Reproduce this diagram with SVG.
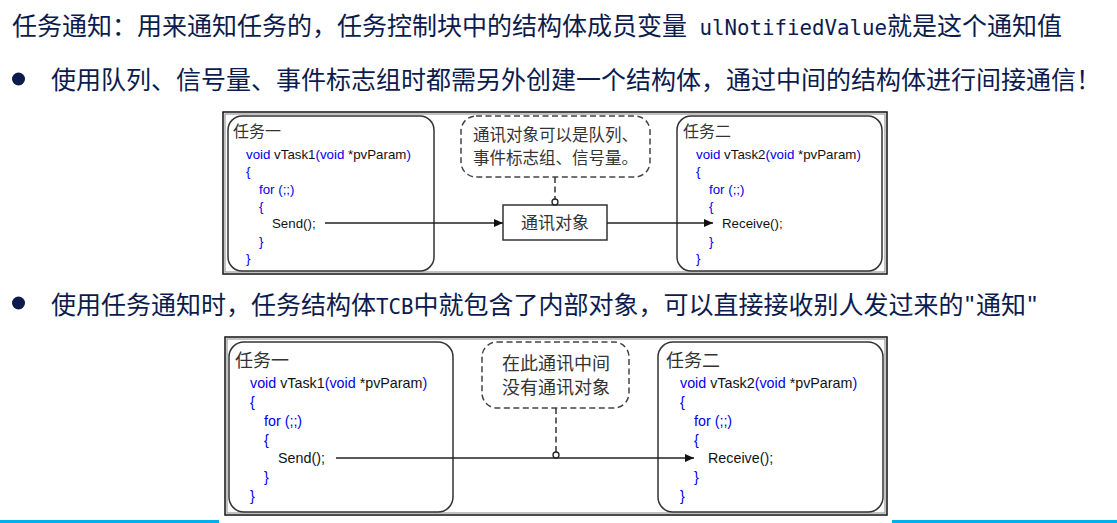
<svg xmlns="http://www.w3.org/2000/svg" width="1117" height="523" viewBox="0 0 1117 523">
<style>
.h{font-family:"Noto Sans CJK SC","Noto Sans",sans-serif;font-size:25px;fill:#0c1b4d}
.hm{font-family:"DejaVu Sans Mono","Liberation Mono",monospace;font-size:21px;fill:#0c1b4d}
.hq{font-family:"Liberation Sans",sans-serif;font-size:25px;fill:#0c1b4d}
.cn{font-family:"Noto Sans CJK SC",sans-serif;fill:#333}
.c1{font-family:"Liberation Sans",Arial,sans-serif;font-size:13.3px;fill:#111}
.c2{font-family:"Liberation Sans",Arial,sans-serif;font-size:14.3px;fill:#111}
.k{fill:#0000ee}
.box{fill:#fff;stroke:#333;stroke-width:1.5}
.dash{fill:#fff;stroke:#444;stroke-width:1.5;stroke-dasharray:6 3.5}
.ln{fill:none;stroke:#222;stroke-width:1.5}
.dl{fill:none;stroke:#333;stroke-width:1.5;stroke-dasharray:6 3.5}
.frame{fill:#fff;stroke:#111;stroke-width:1.5}
.frame2{fill:none;stroke:#999;stroke-width:1.2}
</style>
<defs>
<marker id="ah" markerUnits="userSpaceOnUse" markerWidth="10" markerHeight="8" refX="9" refY="4" orient="auto">
<path d="M0,0 L9,4 L0,8 Z" fill="#111"/>
</marker>
</defs>
<rect width="1117" height="523" fill="#fff"/>
<rect x="0" y="520" width="1117" height="3" fill="#00b0f0"/>

<!-- header texts -->
<text class="h" x="12" y="35">任务通知：用来通知任务的，任务控制块中的结构体成员变量</text>
<text class="hm" x="699.5" y="35" textLength="187.5" lengthAdjust="spacingAndGlyphs">ulNotifiedValue</text>
<text class="h" x="887" y="35">就是这个通知值</text>
<circle cx="18.5" cy="79" r="6.5" fill="#0c1b4d"/>
<text class="h" x="51" y="89">使用队列、信号量、事件标志组时都需另外创建一个结构体，通过中间的结构体进行间接通信！</text>
<circle cx="18.5" cy="303" r="6.5" fill="#0c1b4d"/>
<text class="h" x="51" y="314">使用任务通知时，任务结构体</text>
<text class="hm" x="376" y="314" textLength="37.5" lengthAdjust="spacingAndGlyphs">TCB</text>
<text class="h" x="413.5" y="314">中就包含了内部对象，可以直接接收别人发过来的</text>
<text class="hq" x="969.75" y="314" text-anchor="middle">"</text>
<text class="h" x="976" y="314">通知</text>
<text class="hq" x="1032.25" y="314" text-anchor="middle">"</text>

<!-- diagram 1 -->
<g id="d1-frame">
<rect class="frame" x="223" y="112" width="664" height="162"/>
<rect class="frame2" x="225" y="114" width="660" height="158"/>
</g>
<g id="d1-task1">
<rect class="box" x="228" y="116" width="206" height="155" rx="14"/>
<text class="cn" x="233" y="137" font-size="16">任务一</text>
<text class="c1" x="246" y="159"><tspan class="k">void</tspan> vTask1<tspan class="k">(void</tspan> *pvParam<tspan class="k">)</tspan></text>
<text class="c1 k" x="246" y="176">{</text>
<text class="c1 k" x="259" y="193.5">for (;;)</text>
<text class="c1 k" x="259" y="211">{</text>
<text class="c1" x="272" y="228">Send();</text>
<text class="c1 k" x="259" y="245.5">}</text>
<text class="c1 k" x="246" y="263">}</text>
</g>
<g id="d1-callout">
<rect class="dash" x="461" y="116" width="189" height="61" rx="15"/>
<text class="cn" x="555.5" y="141" font-size="16.5" text-anchor="middle">通讯对象可以是队列、</text>
<text class="cn" x="555.5" y="164" font-size="16.5" text-anchor="middle">事件标志组、信号量。</text>
</g>
<g id="d1-object">
<rect x="503" y="205" width="104" height="35" fill="#fff" stroke="#333" stroke-width="1.5"/>
<text class="cn" x="555" y="229" font-size="17" text-anchor="middle">通讯对象</text>
</g>
<g id="d1-task2">
<rect class="box" x="677" y="116" width="205" height="155" rx="14"/>
<text class="cn" x="683" y="137" font-size="16">任务二</text>
<text class="c1" x="696" y="159"><tspan class="k">void</tspan> vTask2<tspan class="k">(void</tspan> *pvParam<tspan class="k">)</tspan></text>
<text class="c1 k" x="696" y="176">{</text>
<text class="c1 k" x="709" y="193.5">for (;;)</text>
<text class="c1 k" x="709" y="211">{</text>
<text class="c1" x="722" y="228">Receive();</text>
<text class="c1 k" x="709" y="245.5">}</text>
<text class="c1 k" x="696" y="263">}</text>
</g>

<!-- diagram 2 -->
<rect x="219" y="334" width="673" height="189" fill="#fff"/>
<g id="d2-frame">
<rect class="frame" x="225" y="337" width="662" height="178"/>
<rect class="frame2" x="227" y="339" width="658" height="174"/>
</g>
<g id="d2-task1">
<rect class="box" x="229" y="342" width="224" height="170" rx="15"/>
<text class="cn" x="235" y="367" font-size="18">任务一</text>
<text class="c2" x="250" y="388"><tspan class="k">void</tspan> vTask1<tspan class="k">(void</tspan> *pvParam<tspan class="k">)</tspan></text>
<text class="c2 k" x="250" y="407">{</text>
<text class="c2 k" x="264" y="426">for (;;)</text>
<text class="c2 k" x="264" y="445">{</text>
<text class="c2" x="278" y="463">Send();</text>
<text class="c2 k" x="264" y="482">}</text>
<text class="c2 k" x="250" y="501">}</text>
</g>
<g id="d2-callout">
<rect class="dash" x="482" y="342" width="147" height="66" rx="15"/>
<text class="cn" x="556" y="370" font-size="18" text-anchor="middle">在此通讯中间</text>
<text class="cn" x="556" y="394" font-size="18" text-anchor="middle">没有通讯对象</text>
</g>
<g id="d2-task2">
<rect class="box" x="658" y="342" width="225" height="170" rx="15"/>
<text class="cn" x="666" y="367" font-size="18">任务二</text>
<text class="c2" x="680" y="388"><tspan class="k">void</tspan> vTask2<tspan class="k">(void</tspan> *pvParam<tspan class="k">)</tspan></text>
<text class="c2 k" x="680" y="407">{</text>
<text class="c2 k" x="694" y="426">for (;;)</text>
<text class="c2 k" x="694" y="445">{</text>
<text class="c2" x="708" y="463">Receive();</text>
<text class="c2 k" x="694" y="482">}</text>
<text class="c2 k" x="680" y="501">}</text>
</g>

<g id="connectors">
<line class="ln" x1="325" y1="223" x2="503" y2="223" marker-end="url(#ah)"/>
<line class="ln" x1="607" y1="223" x2="713" y2="223" marker-end="url(#ah)"/>
<line class="dl" x1="555" y1="177" x2="555" y2="199"/>
<circle cx="555" cy="202" r="3" fill="#fff" stroke="#222" stroke-width="1.3"/>
<line class="ln" x1="336" y1="458" x2="694" y2="458" marker-end="url(#ah)"/>
<line class="dl" x1="556" y1="408" x2="556" y2="452"/>
<circle cx="556" cy="455" r="3" fill="#fff" stroke="#222" stroke-width="1.3"/>
</g>
</svg>
